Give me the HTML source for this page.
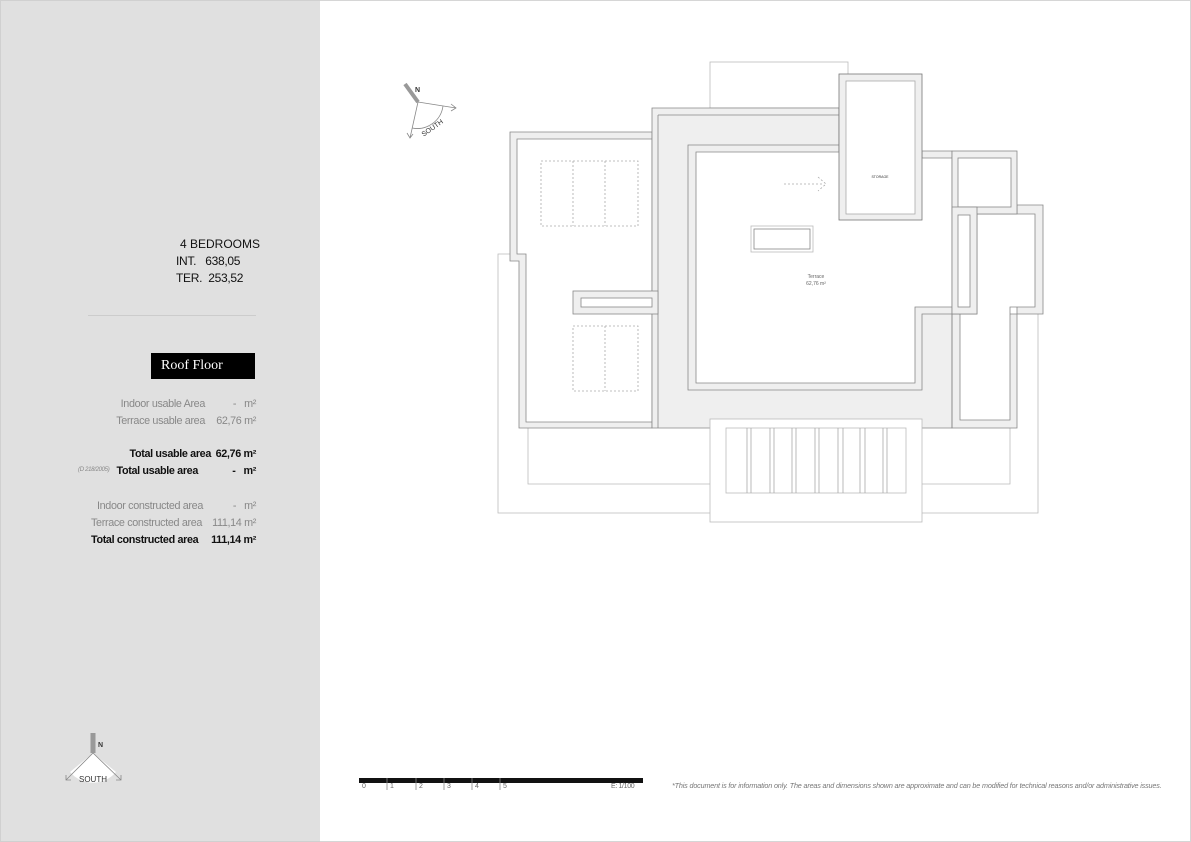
<!DOCTYPE html>
<html><head><meta charset="utf-8"><style>
body{margin:0;width:1191px;height:842px;background:#fff;position:relative;overflow:hidden;font-family:"Liberation Sans",sans-serif}
#lp{position:absolute;left:0;top:0;width:320px;height:842px;background:#e0e0e0}
.t{position:absolute;white-space:nowrap;font-size:10.8px;letter-spacing:-0.35px}
.r{text-align:right}
</style></head><body>
<div id="lp"></div>
<div class="t" style="left:180px;top:237px;font-size:12px;letter-spacing:0;color:#111">4 BEDROOMS</div>
<div class="t" style="left:176px;top:254px;font-size:12px;letter-spacing:-0.3px;color:#111">INT.&nbsp;&nbsp; 638,05</div>
<div class="t" style="left:176px;top:271px;font-size:12px;letter-spacing:-0.3px;color:#111">TER.&nbsp; 253,52</div>
<div style="position:absolute;left:88px;top:315px;width:168px;height:1px;background:#ccc"></div>
<div style="position:absolute;left:151px;top:353px;width:104px;height:26px;background:#000;color:#fff;font-family:'Liberation Serif',serif;font-size:14px;line-height:26px;text-indent:10px">Roof Floor</div>
<div class="t r" style="right:986px;top:398px;color:#888">Indoor usable Area</div>
<div class="t r" style="right:935px;top:398px;color:#888">-&nbsp;&nbsp; m²</div>
<div class="t r" style="right:986px;top:415px;color:#888">Terrace usable area</div>
<div class="t r" style="right:935px;top:415px;color:#888">62,76 m²</div>
<div class="t r" style="right:980px;top:448px;color:#111;font-weight:bold">Total usable area</div>
<div class="t r" style="right:935px;top:448px;color:#111;font-weight:bold">62,76 m²</div>
<div class="t" style="left:78px;top:467px;font-size:6px;letter-spacing:-0.3px;color:#888;font-style:italic">(D 218/2005)</div>
<div class="t r" style="right:993px;top:465px;color:#111;font-weight:bold">Total usable area</div>
<div class="t r" style="right:935px;top:465px;color:#111;font-weight:bold">-&nbsp;&nbsp; m²</div>
<div class="t r" style="right:988px;top:500px;color:#888">Indoor constructed area</div>
<div class="t r" style="right:935px;top:500px;color:#888">-&nbsp;&nbsp; m²</div>
<div class="t" style="left:91px;top:517px;color:#888">Terrace constructed area</div>
<div class="t r" style="right:935px;top:517px;color:#888">111,14 m²</div>
<div class="t" style="left:91px;top:534px;color:#111;font-weight:bold">Total constructed area</div>
<div class="t r" style="right:935px;top:534px;color:#111;font-weight:bold">111,14 m²</div>

<svg width="1191" height="842" style="position:absolute;left:0;top:0" fill="none" stroke-width="0.8">
<rect x="0.5" y="0.5" width="1190" height="841" stroke="#ccc"/>
<g stroke="#bbb">
<rect x="710" y="62" width="138" height="46"/>
<path d="M519,254 H498 V513 H710 M528,428 V484 H710 M922,484 H1010 V428 M1038,314 V513 H922"/>
</g>
<polygon points="510,132 652,132 652,428 519,428 519,261 510,261" fill="#efefef" stroke="#888"/>
<polygon points="517,139 652,139 652,422 526,422 526,254 517,254" fill="#fff" stroke="#888"/>
<polygon points="652,108 839,108 839,151 952,151 952,428 652,428" fill="#efefef" stroke="#888"/>
<path d="M658,115 V428 M658,115 H839" stroke="#888"/>
<path d="M839,145 H688 V390 H922 V314 H952" stroke="#888" fill="none"/>
<polygon points="696,152 922,152 922,158 952,158 952,307 915,307 915,383 696,383" fill="#fff" stroke="#888"/>
<rect x="573" y="291" width="85" height="23" fill="#efefef" stroke="#888"/>
<rect x="581" y="298" width="71" height="9" fill="#fff" stroke="#888"/>
<g stroke="#aaa" stroke-dasharray="2,2">
<rect x="541" y="161" width="97" height="65"/><path d="M573,161V226M605,161V226"/>
<rect x="573" y="326" width="65" height="65"/><path d="M605,326V391"/>
<path d="M784,184 H824 M818,177 L826,184 L818,191"/>
</g>
<rect x="839" y="74" width="83" height="146" fill="#efefef" stroke="#777"/>
<rect x="846" y="81" width="69" height="133" fill="#fff" stroke="#aaa"/>
<text x="880" y="178" font-size="3.5" fill="#333" stroke="none" text-anchor="middle">STORAGE</text>
<rect x="751" y="226" width="62" height="26" fill="#fff" stroke="#bbb"/>
<rect x="754" y="229" width="56" height="20" fill="#fff" stroke="#888"/>
<text x="816" y="278" font-size="5" fill="#666" stroke="none" text-anchor="middle">Terrace</text>
<text x="816" y="285" font-size="5" fill="#666" stroke="none" text-anchor="middle">62,76 m²</text>
<polygon points="952,314 1017,314 1017,205 1043,205 1043,314 1017,314 1017,428 952,428" fill="#efefef" stroke="#888"/>
<polygon points="977,214 1035,214 1035,307 1010,307 1010,420 960,420 960,314 977,314" fill="#fff" stroke="#888"/>
<rect x="952" y="151" width="65" height="63" fill="#efefef" stroke="#888"/>
<rect x="958" y="158" width="53" height="49" fill="#fff" stroke="#888"/>
<rect x="952" y="207" width="25" height="107" fill="#efefef" stroke="#888"/>
<rect x="958" y="215" width="12" height="92" fill="#fff" stroke="#888"/>
<path d="M952,314 V428" stroke="#888"/>
<rect x="710" y="419" width="212" height="103" fill="#fff" stroke="#bbb"/>
<rect x="726" y="428" width="180" height="65" stroke="#bbb"/>
<g stroke="#aaa"><path d="M747,428V493M751,428V493M770,428V493M774,428V493M792,428V493M796,428V493M815,428V493M819,428V493M838,428V493M843,428V493M860,428V493M865,428V493M883,428V493M887,428V493"/></g>
<path d="M405,84 L418,102" stroke="#999" stroke-width="4"/>
<path d="M418,102 L456,108 M451,104 L456,108 L451,111 M418,102 L410,138 M407,133 L410,138 L413,134" stroke="#888"/>
<path d="M443,106 A26,26 0 0 1 412,128" stroke="#888"/>
<text x="415" y="92" font-size="7" font-weight="bold" fill="#333" stroke="none">N</text>
<text x="418" y="131" font-size="7" fill="#333" stroke="none" transform="rotate(-35 430 125)">SOUTH</text>
<path d="M93,733 V753" stroke="#999" stroke-width="5"/>
<path d="M93,753 L70,772 A30,30 0 0 0 116,772 Z" fill="#fff" stroke="none"/>
<path d="M93,753 L66,780 M66,775 L66,780 L71,780 M93,753 L121,780 M116,780 L121,780 L121,775" stroke="#888"/>
<text x="98" y="747" font-size="7" font-weight="bold" fill="#333" stroke="none">N</text>
<text x="93" y="782" font-size="8" fill="#333" stroke="none" text-anchor="middle">SOUTH</text>
<rect x="359" y="778" width="284" height="5" fill="#111" stroke="none"/>
<path d="M387,778V790M416,778V790M444,778V790M472,778V790M500,778V790" stroke="#888"/>
</svg>
<div class="t" style="left:362px;top:783px;font-size:7px;color:#666">0</div>
<div class="t" style="left:390px;top:783px;font-size:7px;color:#666">1</div>
<div class="t" style="left:419px;top:783px;font-size:7px;color:#666">2</div>
<div class="t" style="left:447px;top:783px;font-size:7px;color:#666">3</div>
<div class="t" style="left:475px;top:783px;font-size:7px;color:#666">4</div>
<div class="t" style="left:503px;top:783px;font-size:7px;color:#666">5</div>
<div class="t" style="left:611px;top:783px;font-size:7px;color:#666">E: 1/100</div>
<div class="t" style="left:672px;top:781px;font-size:7.2px;color:#777;font-style:italic;letter-spacing:-0.15px">*This document is for information only. The areas and dimensions shown are approximate and can be modified for technical reasons and/or administrative issues.</div>
</body></html>
